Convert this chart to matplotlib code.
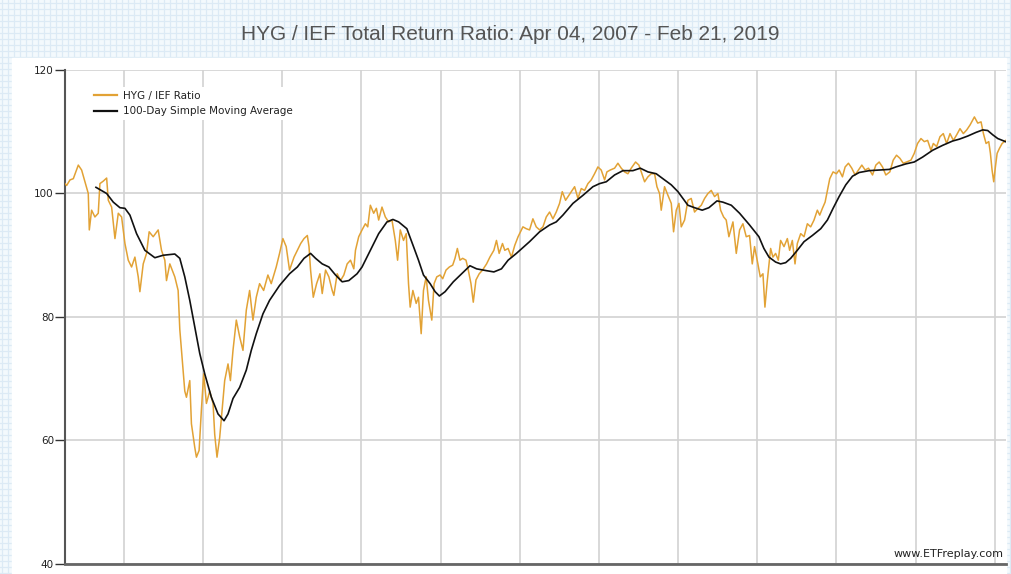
import numpy as np
from matplotlib import pyplot as plt
from matplotlib.lines import Line2D
from matplotlib.patches import Rectangle

plt.rcParams["font.family"] = ["DejaVu Sans"]

TITLE = "HYG / IEF Total Return Ratio: Apr 04, 2007 - Feb 21, 2019"
SERIES_LABELS = ("HYG / IEF Ratio", "100-Day Simple Moving Average")
WATERMARK = "www.ETFreplay.com"

# decimal years / ratio values
ratio_years = [
    2007.256, 2007.277, 2007.319, 2007.361, 2007.424, 2007.466, 2007.508, 2007.550,
    2007.563, 2007.592, 2007.634, 2007.676, 2007.697, 2007.739, 2007.782, 2007.803,
    2007.845, 2007.887, 2007.929, 2007.971, 2008.013, 2008.055, 2008.097, 2008.139,
    2008.181, 2008.202, 2008.244, 2008.286, 2008.319, 2008.370, 2008.433, 2008.475,
    2008.517, 2008.538, 2008.580, 2008.643, 2008.685, 2008.706, 2008.727, 2008.769,
    2008.790, 2008.832, 2008.853, 2008.895, 2008.916, 2008.950, 2008.979, 2009.008,
    2009.042, 2009.084, 2009.126, 2009.147, 2009.176, 2009.210, 2009.244, 2009.273,
    2009.315, 2009.345, 2009.378, 2009.420, 2009.462, 2009.504, 2009.546, 2009.588,
    2009.630, 2009.672, 2009.714, 2009.765, 2009.819, 2009.861, 2009.924, 2009.966,
    2010.008, 2010.050, 2010.092,
    2010.149, 2010.191, 2010.233, 2010.275, 2010.317, 2010.338, 2010.358, 2010.392,
    2010.434, 2010.476, 2010.505, 2010.547, 2010.589, 2010.631, 2010.652, 2010.694,
    2010.736, 2010.778, 2010.820, 2010.862, 2010.904, 2010.925, 2010.966, 2011.008,
    2011.050, 2011.080, 2011.113, 2011.155, 2011.189, 2011.218, 2011.260, 2011.302,
    2011.344, 2011.386, 2011.428, 2011.457, 2011.491, 2011.532, 2011.566, 2011.595,
    2011.616, 2011.650, 2011.692, 2011.721, 2011.755, 2011.784, 2011.818, 2011.847,
    2011.889, 2011.918, 2011.952, 2011.994, 2012.027, 2012.069, 2012.111, 2012.153,
    2012.182, 2012.212, 2012.245, 2012.279, 2012.321, 2012.350, 2012.384, 2012.413,
    2012.447, 2012.488, 2012.530, 2012.581, 2012.623, 2012.673, 2012.706, 2012.740,
    2012.782, 2012.811, 2012.853, 2012.895, 2012.937, 2012.979,
    2013.040, 2013.082, 2013.124, 2013.166, 2013.208, 2013.251, 2013.293, 2013.335,
    2013.377, 2013.419, 2013.461, 2013.503, 2013.537, 2013.579, 2013.621, 2013.663,
    2013.693, 2013.735, 2013.777, 2013.819, 2013.861, 2013.903, 2013.945, 2013.987,
    2014.029, 2014.072, 2014.101, 2014.143, 2014.198, 2014.240, 2014.282, 2014.324,
    2014.366, 2014.408, 2014.463, 2014.505, 2014.535, 2014.577, 2014.619, 2014.661,
    2014.703, 2014.733, 2014.766, 2014.787, 2014.829, 2014.872, 2014.914, 2014.943,
    2014.977, 2015.011, 2015.040, 2015.082, 2015.124, 2015.166, 2015.208, 2015.251,
    2015.293, 2015.335, 2015.377, 2015.419, 2015.461, 2015.503, 2015.537, 2015.575,
    2015.608, 2015.642, 2015.693, 2015.735, 2015.777, 2015.819, 2015.861, 2015.903,
    2015.937, 2015.966, 2016.008, 2016.038, 2016.072, 2016.097, 2016.127,
    2016.169, 2016.198, 2016.232, 2016.266, 2016.295, 2016.338, 2016.380, 2016.409,
    2016.443, 2016.477, 2016.506, 2016.549, 2016.591, 2016.633, 2016.675, 2016.717,
    2016.759, 2016.789, 2016.823, 2016.857, 2016.886, 2016.916, 2016.958, 2017.000,
    2017.034, 2017.076, 2017.110, 2017.152, 2017.194, 2017.236, 2017.278, 2017.321,
    2017.363, 2017.405, 2017.456, 2017.498, 2017.540, 2017.582, 2017.624, 2017.675,
    2017.717, 2017.759, 2017.802, 2017.844, 2017.886, 2017.941, 2017.983, 2018.025,
    2018.068, 2018.110, 2018.152, 2018.194, 2018.224, 2018.266, 2018.308, 2018.350,
    2018.392, 2018.435, 2018.477, 2018.519, 2018.561, 2018.603, 2018.646, 2018.688,
    2018.743, 2018.785, 2018.827, 2018.857, 2018.890, 2018.924, 2018.945, 2018.966,
    2018.987, 2019.008, 2019.030, 2019.059, 2019.093, 2019.122, 2019.140,
]
ratio_values = [
    101.6, 101.3, 102.2, 102.4, 104.6, 103.8, 101.9, 100.0,
    94.1, 97.3, 96.2, 96.8, 101.6, 102.0, 102.5, 98.9,
    97.8, 92.7, 96.8, 96.2, 91.9, 89.2, 88.1, 89.7,
    86.5, 84.1, 88.6, 90.3, 93.8, 93.0, 94.1, 90.8,
    89.2, 85.9, 88.6, 86.5, 84.3, 78.0, 74.6, 68.0,
    67.0, 69.7, 62.7, 58.9, 57.3, 58.4, 65.0, 70.8,
    66.0, 68.0, 66.0, 61.0, 57.3, 60.5, 65.4, 69.7,
    72.4, 69.7, 74.6, 79.5, 76.8, 74.6, 81.1, 84.3,
    79.5, 83.2, 85.4, 84.3, 86.8, 85.4, 88.1, 90.3,
    92.7, 91.4, 87.6,
    89.7, 90.8, 91.9, 92.7, 93.2, 91.4, 87.6, 83.2,
    85.4, 87.0, 83.8, 87.6, 86.5, 84.3, 83.5, 87.0,
    85.9, 86.8, 88.6, 89.2, 87.8, 90.8, 93.0, 94.1,
    95.1, 94.6, 98.1, 96.8, 97.6, 95.7, 97.8, 96.2,
    95.4, 95.7, 92.4, 89.2, 94.1, 92.4, 93.5, 85.4,
    81.6, 84.3, 82.2, 83.2, 77.3, 84.3, 86.5, 82.7,
    79.5, 85.4, 86.5, 86.8, 86.2, 87.6, 88.1, 88.4,
    89.5, 91.1, 89.2, 89.5, 89.2, 87.6, 85.4, 82.4,
    86.0, 87.0, 87.6, 88.6, 89.7, 90.8, 92.4, 90.3,
    91.9, 90.8, 91.1, 89.7, 91.6, 93.0,
    94.6, 94.3, 94.1, 95.9, 94.6, 94.1, 94.6, 96.2,
    97.0, 95.9, 97.0, 98.4, 100.3, 98.9, 99.7, 100.5,
    101.1, 99.2, 100.8, 100.5, 101.6, 102.2, 103.2, 104.3,
    103.8, 102.2, 103.5, 103.8, 104.1, 104.9, 104.1, 103.5,
    103.2, 104.1, 105.1, 104.6, 103.5, 101.9, 102.7, 103.2,
    103.2, 101.1, 100.0, 97.3, 101.1, 99.7, 98.4, 93.8,
    97.3, 98.4, 94.6, 95.7, 98.9, 99.2, 97.0, 97.6,
    98.1, 99.2, 100.0, 100.5, 99.5, 100.0, 97.3, 96.2,
    95.7, 93.0, 95.4, 90.3, 94.1, 95.1, 93.0, 93.2,
    88.6, 91.4, 88.6, 86.5, 87.0, 81.6, 85.9,
    91.1, 89.7, 90.3, 89.2, 92.4, 91.4, 92.7, 90.8,
    92.4, 88.6, 91.9, 93.5, 93.0, 95.1, 94.6, 95.7,
    97.3, 96.5, 97.6, 98.6, 100.5, 102.4, 103.5, 103.2,
    103.8, 102.7, 104.3, 104.9, 104.1, 103.0, 103.8, 104.6,
    103.8, 104.1, 103.0, 104.6, 105.1, 104.3, 103.0, 103.5,
    105.4, 106.2, 105.7, 104.9, 105.1, 105.4, 106.5, 108.1,
    108.9, 108.4, 108.6, 107.0, 108.1, 107.6, 109.2, 109.7,
    108.1, 109.7, 108.6, 109.5, 110.5, 109.7, 110.3, 111.1,
    112.4, 111.4, 111.6, 109.7, 108.1, 108.4, 106.5, 103.8,
    101.9, 104.3, 106.5, 107.3, 108.1, 108.4, 108.6,
]

sma_years = [
    2007.647, 2007.782, 2007.866, 2007.950, 2008.013, 2008.076, 2008.160, 2008.265,
    2008.391, 2008.496, 2008.643, 2008.706, 2008.769, 2008.832, 2008.895, 2008.958,
    2009.021, 2009.105, 2009.189, 2009.265, 2009.315, 2009.378, 2009.462, 2009.546,
    2009.609, 2009.672, 2009.756, 2009.840, 2009.966, 2010.092, 2010.191, 2010.275,
    2010.358, 2010.421, 2010.505, 2010.589, 2010.673, 2010.757, 2010.841, 2010.945,
    2011.008, 2011.113, 2011.218, 2011.323, 2011.398, 2011.470, 2011.574, 2011.658,
    2011.721, 2011.784, 2011.868, 2011.931, 2011.985, 2012.057, 2012.161, 2012.266,
    2012.371, 2012.455, 2012.581, 2012.673, 2012.769, 2012.853, 2012.958, 2013.124,
    2013.251, 2013.377, 2013.461, 2013.545, 2013.672, 2013.798, 2013.924, 2014.008,
    2014.093, 2014.198, 2014.303, 2014.429, 2014.522, 2014.619, 2014.724, 2014.808,
    2014.914, 2014.998, 2015.061, 2015.124, 2015.208, 2015.305, 2015.389, 2015.491,
    2015.566, 2015.672, 2015.777, 2015.903, 2016.021, 2016.084, 2016.148, 2016.232,
    2016.295, 2016.359, 2016.422, 2016.506, 2016.591, 2016.696, 2016.802, 2016.886,
    2016.958, 2017.034, 2017.118, 2017.203, 2017.287, 2017.414, 2017.540, 2017.667,
    2017.751, 2017.878, 2017.983, 2018.089, 2018.215, 2018.342, 2018.468, 2018.553,
    2018.658, 2018.764, 2018.848, 2018.911, 2018.975, 2019.038, 2019.135,
]
sma_values = [
    101.0, 100.0, 98.6, 97.7, 97.6, 96.5, 93.5, 90.8,
    89.6, 90.0, 90.2, 89.5, 86.5, 82.7, 78.4, 74.1,
    70.8, 67.0, 64.3, 63.2, 64.3, 66.8, 68.6, 71.4,
    74.6, 77.3, 80.5, 82.7, 85.1, 87.0, 88.1, 89.5,
    90.3, 89.5, 88.6, 88.1, 86.8, 85.7, 85.9, 87.0,
    88.1, 90.8, 93.5, 95.4, 95.8, 95.4, 94.3, 91.4,
    89.2, 86.8, 85.4, 84.1, 83.4, 84.1, 85.7, 87.0,
    88.3, 87.8, 87.5, 87.3, 87.8, 89.2, 90.3, 92.2,
    93.8, 94.9, 95.4, 96.5, 98.4, 99.7, 101.1, 101.6,
    101.9, 103.0, 103.7, 103.7, 104.1, 103.5, 103.2, 102.4,
    101.4, 100.3, 99.2, 98.1, 97.7, 97.3, 97.7, 98.8,
    98.6, 98.1, 96.8, 94.9, 93.0, 91.1, 89.7, 88.9,
    88.6, 88.8, 89.5, 90.8, 92.2, 93.2, 94.3, 95.7,
    97.6, 99.5, 101.4, 102.8, 103.4, 103.7, 103.8, 103.9,
    104.3, 104.8, 105.1, 105.9, 107.0, 107.8, 108.5, 108.8,
    109.3, 109.9, 110.3, 110.2, 109.5, 108.9, 108.4,
]

y_ticks = [40, 60, 80, 100, 120]
year_lines = list(range(2008, 2020))

RATIO_COLOR = "#E2A235"
SMA_COLOR = "#111111"
W, H = 1012, 574


def draw_background(fig) -> None:
    bg = fig.add_axes([0, 0, 1, 1], zorder=-5)
    bg.set_xlim(0, W)
    bg.set_ylim(H, 0)
    bg.axis("off")
    bg.add_patch(Rectangle((0, 0), W, H, color="#F3F9FD", zorder=0))
    for x in np.arange(2.5, W, 6):
        bg.axvline(x, color="#DCEAF5", lw=0.9, zorder=1)
    for y in np.arange(2.5, H, 6):
        bg.axhline(y, color="#DCEAF5", lw=0.9, zorder=1)
    # white panel behind the chart
    bg.add_patch(Rectangle((12, 58), 994, H - 58, color="white", zorder=2))


def draw_chart(fig) -> None:
    ax = fig.add_axes([65 / W, 10 / H, 941 / W, 494 / H])
    ax.set_facecolor("white")

    ax.plot(ratio_years, ratio_values, color=RATIO_COLOR, lw=1.1, zorder=3)
    ax.plot(sma_years, sma_values, color=SMA_COLOR, lw=1.2, zorder=4)

    ax.set_xlim(2007.256, 2019.142)
    ax.set_ylim(40, 120)
    ax.set_yticks(y_ticks)
    ax.set_xticks(year_lines)
    ax.set_xticklabels([])
    ax.tick_params(axis="x", length=0)
    ax.tick_params(axis="y", length=7, width=1, color="#333333",
                   labelsize=7.5, labelcolor="#222222", pad=1)
    ax.grid(True, color="#D2D2D2", lw=1.2, zorder=0)
    ax.set_axisbelow(True)

    for side in ("top", "right"):
        ax.spines[side].set_visible(False)
    ax.spines["left"].set_color("#555555")
    ax.spines["left"].set_linewidth(1.5)
    ax.spines["bottom"].set_color("#666666")
    ax.spines["bottom"].set_linewidth(2)

    handles = [Line2D([], [], color=RATIO_COLOR, lw=1.6),
               Line2D([], [], color=SMA_COLOR, lw=1.6)]
    leg = ax.legend(handles, SERIES_LABELS, loc="upper left",
                    bbox_to_anchor=(0.026, 0.966), borderaxespad=0,
                    frameon=True, facecolor="white", edgecolor="none",
                    framealpha=1, fancybox=False, fontsize=7.5,
                    handlelength=2.2, handletextpad=0.6, labelspacing=0.5)
    for txt in leg.get_texts():
        txt.set_color("#222222")
    leg.set_zorder(6)

    ax.text(0.997, 0.0148, WATERMARK, transform=ax.transAxes, ha="right",
            va="baseline", fontsize=8, color="#222222", zorder=6)


fig = plt.figure(figsize=(W / 100, H / 100), dpi=100)
draw_background(fig)
draw_chart(fig)
fig.text(0.504, 1 - 34.5 / H, TITLE, ha="center", va="center",
         fontsize=15, color="#555555", family=["Liberation Sans", "DejaVu Sans"])
fig.savefig("out.png", dpi=100)
